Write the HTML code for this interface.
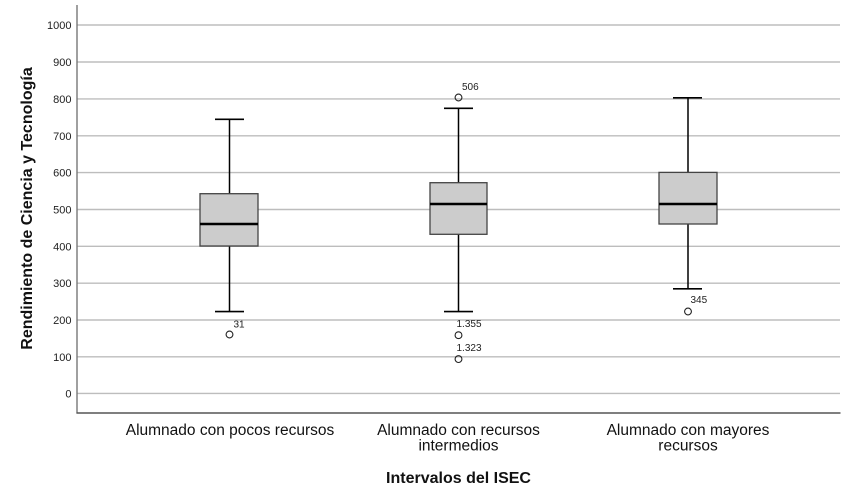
<!DOCTYPE html>
<html>
<head>
<meta charset="utf-8">
<style>
html,body{margin:0;padding:0;background:#fff;}
svg{display:block;}
text{font-family:"Liberation Sans",Arial,sans-serif;}
</style>
</head>
<body>
<svg width="850" height="500" viewBox="0 0 850 500" xmlns="http://www.w3.org/2000/svg">
<rect width="850" height="500" fill="#fff"/>
<!-- gridlines -->
<g stroke="#bdbdbd" stroke-width="1.4">
<line x1="77" y1="25" x2="840" y2="25"/>
<line x1="77" y1="62" x2="840" y2="62"/>
<line x1="77" y1="98.9" x2="840" y2="98.9"/>
<line x1="77" y1="135.8" x2="840" y2="135.8"/>
<line x1="77" y1="172.6" x2="840" y2="172.6"/>
<line x1="77" y1="209.5" x2="840" y2="209.5"/>
<line x1="77" y1="246.3" x2="840" y2="246.3"/>
<line x1="77" y1="283.2" x2="840" y2="283.2"/>
<line x1="77" y1="320" x2="840" y2="320"/>
<line x1="77" y1="356.8" x2="840" y2="356.8"/>
<line x1="77" y1="393.4" x2="840" y2="393.4"/>
</g>
<!-- axes -->
<line x1="77" y1="5" x2="77" y2="413.5" stroke="#777" stroke-width="1.4"/>
<line x1="76.5" y1="413" x2="840.5" y2="413" stroke="#555" stroke-width="1.4"/>
<!-- tick labels -->
<g font-size="11" fill="#222" text-anchor="end">
<text x="71.5" y="29">1000</text>
<text x="71.5" y="66">900</text>
<text x="71.5" y="103">800</text>
<text x="71.5" y="140">700</text>
<text x="71.5" y="176.5">600</text>
<text x="71.5" y="213.5">500</text>
<text x="71.5" y="250.5">400</text>
<text x="71.5" y="287">300</text>
<text x="71.5" y="324">200</text>
<text x="71.5" y="361">100</text>
<text x="71.5" y="397.5">0</text>
</g>
<!-- Box 1 -->
<g>
<line x1="229.5" y1="119.3" x2="229.5" y2="193.7" stroke="#000" stroke-width="1.5"/>
<line x1="229.5" y1="246" x2="229.5" y2="311.6" stroke="#000" stroke-width="1.5"/>
<line x1="215" y1="119.3" x2="244" y2="119.3" stroke="#000" stroke-width="1.6"/>
<line x1="215" y1="311.6" x2="244" y2="311.6" stroke="#000" stroke-width="1.6"/>
<rect x="200" y="193.7" width="58" height="52.3" fill="#cccccc" stroke="#444" stroke-width="1.3"/>
<line x1="200" y1="224" x2="258" y2="224" stroke="#000" stroke-width="2.6"/>
<circle cx="229.5" cy="334.5" r="3.4" fill="none" stroke="#222" stroke-width="1.1"/>
<text x="233.5" y="327.5" font-size="10" fill="#222">31</text>
</g>
<!-- Box 2 -->
<g>
<line x1="458.5" y1="108.3" x2="458.5" y2="182.7" stroke="#000" stroke-width="1.5"/>
<line x1="458.5" y1="234.3" x2="458.5" y2="311.6" stroke="#000" stroke-width="1.5"/>
<line x1="444" y1="108.3" x2="473" y2="108.3" stroke="#000" stroke-width="1.6"/>
<line x1="444" y1="311.6" x2="473" y2="311.6" stroke="#000" stroke-width="1.6"/>
<rect x="430" y="182.7" width="57" height="51.6" fill="#cccccc" stroke="#444" stroke-width="1.3"/>
<line x1="430" y1="204" x2="487" y2="204" stroke="#000" stroke-width="2.6"/>
<circle cx="458.5" cy="97.5" r="3.4" fill="none" stroke="#222" stroke-width="1.1"/>
<circle cx="458.5" cy="335.2" r="3.4" fill="none" stroke="#222" stroke-width="1.1"/>
<circle cx="458.5" cy="359.1" r="3.4" fill="none" stroke="#222" stroke-width="1.1"/>
<text x="462" y="90" font-size="10" fill="#222">506</text>
<text x="456.5" y="327" font-size="10" fill="#222">1.355</text>
<text x="456.5" y="351" font-size="10" fill="#222">1.323</text>
</g>
<!-- Box 3 -->
<g>
<line x1="688" y1="97.8" x2="688" y2="172.4" stroke="#000" stroke-width="1.5"/>
<line x1="688" y1="224" x2="688" y2="288.8" stroke="#000" stroke-width="1.5"/>
<line x1="673" y1="97.8" x2="702" y2="97.8" stroke="#000" stroke-width="1.6"/>
<line x1="673" y1="288.8" x2="702" y2="288.8" stroke="#000" stroke-width="1.6"/>
<rect x="659" y="172.4" width="58" height="51.6" fill="#cccccc" stroke="#444" stroke-width="1.3"/>
<line x1="659" y1="204" x2="717" y2="204" stroke="#000" stroke-width="2.6"/>
<circle cx="688" cy="311.5" r="3.4" fill="none" stroke="#222" stroke-width="1.1"/>
<text x="690.5" y="303" font-size="10" fill="#222">345</text>
</g>
<!-- category labels -->
<g font-size="15.5" fill="#111" text-anchor="middle">
<text x="230" y="435">Alumnado con pocos recursos</text>
<text x="458.5" y="435">Alumnado con recursos</text>
<text x="458.5" y="450.5">intermedios</text>
<text x="688" y="435">Alumnado con mayores</text>
<text x="688" y="450.5">recursos</text>
</g>
<!-- axis titles -->
<text x="458.5" y="483" font-size="16" font-weight="bold" fill="#111" text-anchor="middle">Intervalos del ISEC</text>
<text transform="translate(32,208.5) rotate(-90)" font-size="16" font-weight="bold" fill="#111" text-anchor="middle">Rendimiento de Ciencia y Tecnología</text>
</svg>
</body>
</html>
